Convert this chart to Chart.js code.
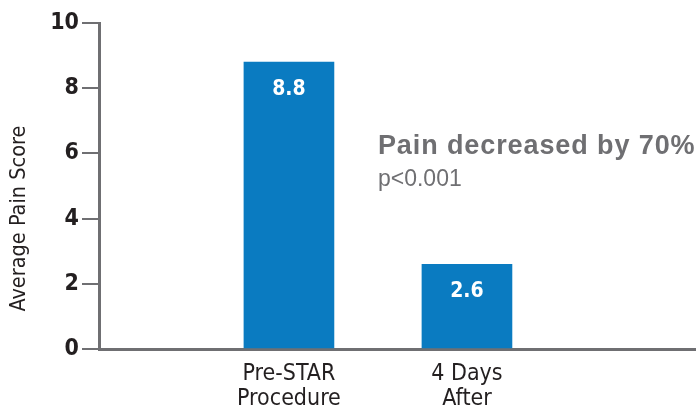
<!DOCTYPE html>
<html><head><meta charset="utf-8">
<script src="https://cdn.jsdelivr.net/npm/chart.js@4.4.1/dist/chart.umd.min.js"></script>
<style>html,body{margin:0;padding:0;background:#fff}#wrap{width:699px;height:408px}</style>
</head><body><div id="wrap"><canvas id="c" width="699" height="408"></canvas></div>
<script>
const categories = [["Pre-STAR", "Procedure"], ["4 Days", "After"]];
const categoryPositions = [1, 2];
const painScores = [8.8, 2.6];
const valueLabels = ["8.8", "2.6"];
const yTicks = [0, 2, 4, 6, 8, 10];
const yTitle = "Average Pain Score";
const headline = "Pain decreased by 70%";
const pValue = "p<0.001";

const GRAY = '#6f6f72';
const DARK = '#231f20';
const BLUE = '#0a7bc1';
const NARROW = '"DejaVu Sans", sans-serif';

const labelPlugin = {
  id: 'labels',
  afterDatasetsDraw(chart) {
    const ctx = chart.ctx;
    const meta = chart.getDatasetMeta(0);
    const xs = chart.scales.x, ys = chart.scales.y;
    ctx.save();
    ctx.fillStyle = '#fff';
    ctx.font = 'bold condensed 21px ' + NARROW;
    ctx.textAlign = 'center';
    ctx.textBaseline = 'middle';
    meta.data.forEach((bar, i) => {
      ctx.fillText(valueLabels[i], bar.x, bar.y + 27);
    });
    // annotation
    const ax = xs.getPixelForValue(1) + 89;
    ctx.textAlign = 'left';
    ctx.fillStyle = GRAY;
    ctx.font = 'bold 27px "Liberation Sans", Arial, sans-serif';
    ctx.letterSpacing = '0.9px';
    ctx.fillText(headline, ax, ys.getPixelForValue(6.2));
    ctx.font = '23px "Liberation Sans", Arial, sans-serif';
    ctx.letterSpacing = '0px';
    ctx.fillText(pValue, ax, ys.getPixelForValue(5.2));
    // y-axis title
    ctx.save();
    ctx.translate(19, ys.getPixelForValue(4));
    ctx.rotate(-Math.PI / 2);
    ctx.textAlign = 'center';
    ctx.fillStyle = DARK;
    ctx.font = 'condensed 21.5px ' + NARROW;
    ctx.fillText(yTitle, 0, 0);
    ctx.restore();
    ctx.restore();
  }
};

new Chart(document.getElementById('c'), {
  type: 'bar',
  data: {
    datasets: [{
      data: painScores.map((v, i) => ({x: categoryPositions[i], y: v})),
      backgroundColor: BLUE,
      barThickness: 90,
      borderWidth: 0
    }]
  },
  options: {
    responsive: false,
    animation: false,
    devicePixelRatio: 1,
    layout: {padding: {top: 23, right: 4, left: 0, bottom: 0}},
    plugins: {legend: {display: false}, tooltip: {enabled: false}},
    scales: {
      x: {
        type: 'linear',
        offset: false,
        min: -0.067,
        max: 3.281,
        afterBuildTicks: s => { s.ticks = categoryPositions.map(v => ({value: v})); },
        afterFit: s => { s.height = 59; },
        ticks: {
          callback: (v) => { const i = categoryPositions.indexOf(v); return i >= 0 ? categories[i] : ''; },
          color: DARK,
          font: {family: NARROW, size: 23, weight: 'condensed', lineHeight: 1.08},
          padding: 13,
          maxRotation: 0,
          autoSkip: false
        },
        grid: {display: true, drawOnChartArea: false, drawTicks: false},
        border: {display: true, color: GRAY, width: 3}
      },
      y: {
        min: 0,
        max: 10,
        afterBuildTicks: s => { s.ticks = yTicks.map(v => ({value: v})); },
        afterFit: s => { s.width = 99; },
        ticks: {
          color: DARK,
          font: {family: NARROW, size: 23, weight: 'bold condensed'},
          padding: 3
        },
        grid: {drawOnChartArea: false, drawTicks: true, tickLength: 17, color: GRAY, lineWidth: 2},
        border: {display: true, color: GRAY, width: 3},
        title: {display: false}
      }
    }
  },
  plugins: [labelPlugin]
});
</script>
</body></html>
